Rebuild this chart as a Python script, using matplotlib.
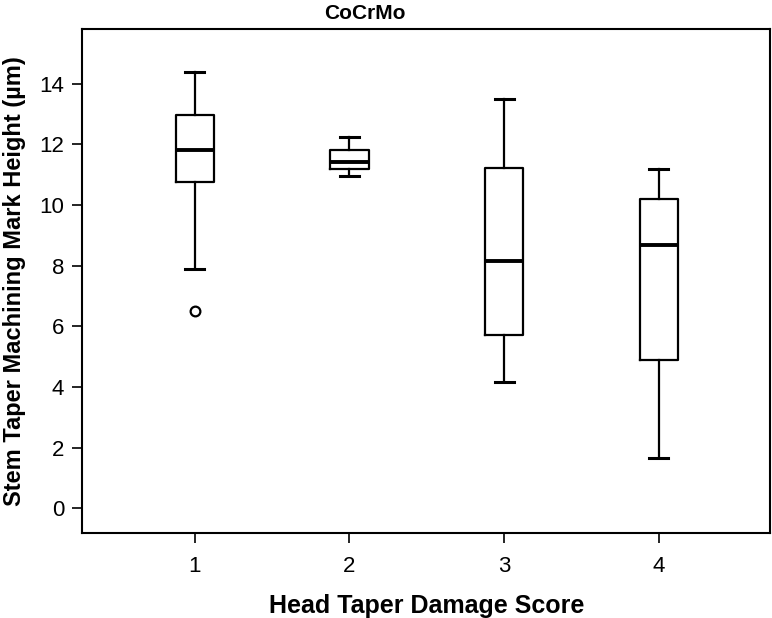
import numpy as np
import matplotlib
matplotlib.use("Agg")
import matplotlib.pyplot as plt

plt.rcParams['font.family'] = ['Liberation Sans', 'DejaVu Sans']

# box plot summaries (um)
scores = [1, 2, 3, 4]
whisk_lo = [7.89, 10.96, 4.15, 1.64]
q1 = [10.76, 11.20, 5.71, 4.90]
medians = [11.83, 11.43, 8.14, 8.68]
q3 = [12.98, 11.83, 11.24, 10.20]
whisk_hi = [14.39, 12.24, 13.49, 11.20]
outliers = [[6.49], [], [], []]

stats = []
for i in range(len(scores)):
    stats.append({
        'whislo': whisk_lo[i], 'q1': q1[i], 'med': medians[i],
        'q3': q3[i], 'whishi': whisk_hi[i], 'fliers': outliers[i],
        'label': str(scores[i]),
    })

fig = plt.figure(figsize=(7.72, 6.18), dpi=100)
ax = fig.add_axes([0.1066, 0.137, 0.8912, 0.8156])

ax.bxp(stats, positions=scores, widths=0.246, showfliers=True,
       boxprops=dict(color='black', linewidth=1.6),
       medianprops=dict(color='black', linewidth=2.8),
       whiskerprops=dict(color='black', linewidth=1.6),
       capprops=dict(color='black', linewidth=2.2),
       flierprops=dict(marker='o', markersize=7, markerfacecolor='none',
                       markeredgecolor='black', markeredgewidth=1.6))

ax.set_xlim(0.273, 4.72)
ax.set_ylim(-0.83, 15.8)
ax.set_yticks([0, 2, 4, 6, 8, 10, 12, 14])
ax.set_xticks(scores)
ax.set_xticklabels([str(s) for s in scores])
ax.tick_params(direction='out', length=7, width=1.2, labelsize=16)
ax.tick_params(axis='x', pad=9)
ax.tick_params(axis='y', pad=6)
for sp in ax.spines.values():
    sp.set_linewidth(1.5)

ax.set_xlabel('Head Taper Damage Score', fontsize=18, fontweight='bold')
ax.set_ylabel('Stem Taper Machining Mark Height (\u00b5m)', fontsize=17, fontweight='bold')
ax.xaxis.set_label_coords(0.5, -0.12)
ax.yaxis.set_label_coords(-0.082, 0.5)
ax.text(0.41, 1.012, 'CoCrMo', transform=ax.transAxes, ha='center', va='bottom',
        fontsize=15, fontweight='bold')

fig.savefig('out.png', dpi=100)
